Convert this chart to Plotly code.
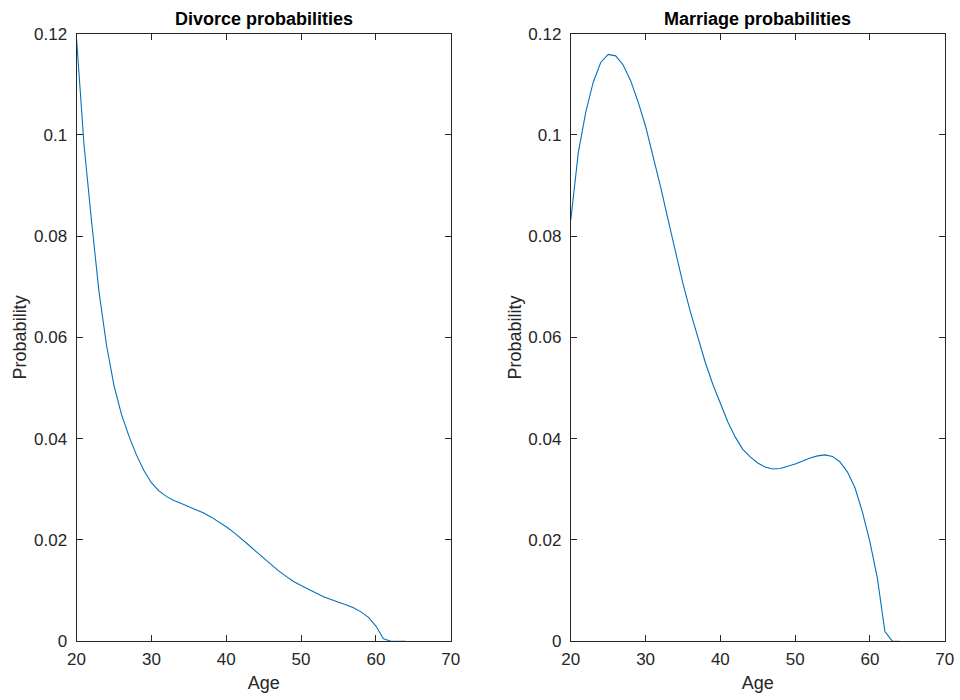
import plotly.graph_objects as go

ages = list(range(20, 65))

divorce_prob = [0.119, 0.098, 0.083, 0.069, 0.0585, 0.0505, 0.0448, 0.0405, 0.0368, 0.0337,
                0.0313, 0.0297, 0.0286, 0.0278, 0.0272, 0.0266, 0.026, 0.0253, 0.0245, 0.0236,
                0.0226, 0.0215, 0.0203, 0.019, 0.0177, 0.0164, 0.0151, 0.0139, 0.0128, 0.0118,
                0.011, 0.0102, 0.0095, 0.0088, 0.0082, 0.0077, 0.0072, 0.0066, 0.0058, 0.0047,
                0.003, 0.0005, 0.0, 0.0, 0.0]

marriage_prob = [0.0832, 0.0965, 0.1045, 0.1104, 0.1143, 0.1159, 0.1156, 0.1138, 0.1107, 0.1065,
                 0.1017, 0.0960, 0.0898, 0.0833, 0.0768, 0.0706, 0.0650, 0.0598, 0.0550, 0.0507,
                 0.0468, 0.0433, 0.0403, 0.0379, 0.0364, 0.0352, 0.0344, 0.0340, 0.0341, 0.0345,
                 0.0350, 0.0356, 0.0362, 0.0366, 0.0368, 0.0365, 0.0354, 0.0334, 0.0303, 0.0255,
                 0.0196, 0.0124, 0.0019, 0.0, 0.0]

x_ticks = [20, 30, 40, 50, 60, 70]
y_ticks = [0, 0.02, 0.04, 0.06, 0.08, 0.1, 0.12]
y_tick_labels = ["0", "0.02", "0.04", "0.06", "0.08", "0.1", "0.12"]

titles = ["Divorce probabilities", "Marriage probabilities"]

LINE = "#0072BD"
AX = "#262626"
FONT = "Liberation Sans, Arial, Helvetica, sans-serif"

# the page shows the figure in a frame 16px smaller, offset by 8px
W, H = 960, 700
FW, FH, OFF = W - 16, H - 16, 8


def px_x(p):
    return (p - OFF) / FW


def px_y(p):
    return 1 - (p - OFF) / FH


fig = go.Figure()
fig.add_trace(go.Scatter(x=ages, y=divorce_prob, mode="lines",
                         line=dict(color=LINE, width=1.1), xaxis="x", yaxis="y",
                         showlegend=False))
fig.add_trace(go.Scatter(x=ages, y=marriage_prob, mode="lines",
                         line=dict(color=LINE, width=1.1), xaxis="x2", yaxis="y2",
                         showlegend=False))

ydom = [px_y(643), px_y(32.7)]
xdom1 = [px_x(75.7), px_x(450.7)]
xdom2 = [px_x(571), px_x(945.7)]

common_x = dict(range=[20, 70], tickvals=x_ticks, ticks="inside", ticklen=6,
                tickcolor=AX, showline=True, linecolor=AX, linewidth=1, mirror="ticks",
                showgrid=False, zeroline=False, ticklabelstandoff=2,
                tickfont=dict(family=FONT, size=17, color=AX),
                title=dict(text="Age", font=dict(family=FONT, size=18, color=AX), standoff=8))
common_y = dict(range=[0, 0.12], tickvals=y_ticks, ticktext=y_tick_labels, ticks="inside",
                ticklen=6, tickcolor=AX, showline=True, linecolor=AX, linewidth=1,
                mirror="ticks", showgrid=False, zeroline=False, ticklabelstandoff=5,
                tickfont=dict(family=FONT, size=17, color=AX),
                title=dict(text="Probability", font=dict(family=FONT, size=18, color=AX),
                           standoff=2))

fig.update_layout(
    width=W, height=H,
    margin=dict(l=0, r=0, t=0, b=0),
    paper_bgcolor="white", plot_bgcolor="white",
    xaxis=dict(domain=xdom1, anchor="y", **common_x),
    yaxis=dict(domain=ydom, anchor="x", **common_y),
    xaxis2=dict(domain=xdom2, anchor="y2", **common_x),
    yaxis2=dict(domain=ydom, anchor="x2", **common_y),
    annotations=[
        dict(text="<b>" + titles[0] + "</b>", x=(xdom1[0] + xdom1[1]) / 2, y=px_y(18),
             xref="paper", yref="paper", showarrow=False, xanchor="center", yanchor="middle",
             font=dict(family=FONT, size=18, color="black")),
        dict(text="<b>" + titles[1] + "</b>", x=(xdom2[0] + xdom2[1]) / 2, y=px_y(18),
             xref="paper", yref="paper", showarrow=False, xanchor="center", yanchor="middle",
             font=dict(family=FONT, size=18, color="black")),
    ],
)

fig.write_html("out.html")
